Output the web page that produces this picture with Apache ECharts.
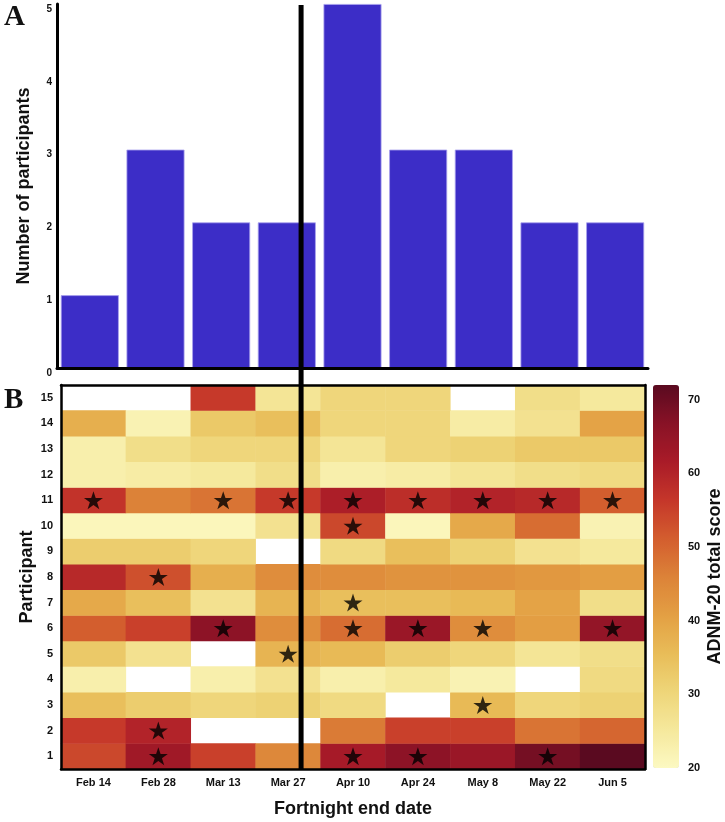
<!DOCTYPE html>
<html>
<head>
<meta charset="utf-8">
<script src="https://cdn.jsdelivr.net/npm/echarts@6/dist/echarts.min.js"></script>
<style>html,body{margin:0;padding:0;background:#fff;}#chart{width:725px;height:822px;}</style>
</head>
<body>
<div id="chart"></div>
<script>
// ---- data ----
const dates = ['Feb 14','Feb 28','Mar 13','Mar 27','Apr 10','Apr 24','May 8','May 22','Jun 5'];
const participantCounts = [1, 3, 2, 2, 5, 3, 3, 2, 2];
const participants = ['1','2','3','4','5','6','7','8','9','10','11','12','13','14','15'];
// ADNM-20 total score per participant (null = missing)
const p1  = [54, 63, 55, 45, 62, 66, 64, 69, 72];
const p2  = [56, 60, null, null, 47, 55, 55, 48, 50];
const p3  = [35, 32, 30, 31, 29, null, 36, 30, 31];
const p4  = [23, null, 23, 27, 23, 25, 22, null, 29];
const p5  = [33, 27, null, 37, 36, 32, 30, 26, 28];
const p6  = [51, 55, 66, 44, 49, 64, 44, 41, 65];
const p7  = [39, 35, 27, 37, 35, 35, 36, 40, 28];
const p8  = [59, 53, 38, 44, 44, 43, 43, 42, 41];
const p9  = [32, 32, 30, null, 29, 35, 31, 27, 25];
const p10 = [21, 21, 21, 27, 54, 21, 39, 49, 22];
const p11 = [57, 46, 48, 56, 61, 58, 60, 59, 51];
const p12 = [23, 24, 25, 28, 23, 24, 26, 28, 29];
const p13 = [23, 28, 30, 30, 26, 30, 31, 33, 33];
const p14 = [38, 22, 33, 35, 30, 30, 24, 27, 40];
const p15 = [null, null, 56, 26, 30, 30, null, 28, 25];
const scores = [p1,p2,p3,p4,p5,p6,p7,p8,p9,p10,p11,p12,p13,p14,p15];
// [date index, participant number] of starred cells
const stars = [[0,11],[2,11],[3,11],[4,11],[5,11],[6,11],[7,11],[8,11],[4,10],[1,8],[4,7],[2,6],[4,6],[5,6],[6,6],[8,6],[3,5],[6,3],[1,2],[1,1],[4,1],[5,1],[7,1]];
const colorTicks = [20, 30, 40, 50, 60, 70];
const lockdownPos = 3.7; // position on the fortnight axis (Mar 23)

// ---- build ----
const heatData = [];
scores.forEach((row, pi) => row.forEach((v, di) => {
  heatData.push([di, pi, v == null ? '-' : v]);
}));
const starData = stars.map(s => [s[0], s[1] - 1]);
const FONT = "'Liberation Sans', Arial, sans-serif";
const starPath = 'path://M100,0 L122.5,69.1 L195.1,69.1 L136.3,111.8 L158.8,180.9 L100,138.2 L41.2,180.9 L63.7,111.8 L4.9,69.1 L77.5,69.1 Z';
const lbl = {fontFamily: FONT, fontWeight: 'bold', fontSize: 11, color: '#111'};
const nameStyle = {fontFamily: FONT, fontWeight: 'bold', fontSize: 18, color: '#111'};

const chart = echarts.init(document.getElementById('chart'));
chart.setOption({
  animation: false,
  backgroundColor: '#fff',
  title: [
    {text: 'A', left: 4, top: 3, padding: 0, textStyle: {fontFamily: "'Liberation Serif', 'DejaVu Serif', serif", fontWeight: 'bold', fontSize: 29, color: '#111'}},
    {text: 'B', left: 4, top: 386, padding: 0, textStyle: {fontFamily: "'Liberation Serif', 'DejaVu Serif', serif", fontWeight: 'bold', fontSize: 29, color: '#111'}}
  ],
  grid: [
    {left: 57, top: 4, width: 591, height: 364},
    {left: 61, top: 385, width: 584, height: 384},
    {left: 653, top: 385, width: 26, height: 383},
    {left: 61, top: 5, width: 584, height: 764}
  ],
  xAxis: [
    {gridIndex: 0, type: 'category', data: dates, z: 10,
     axisLine: {lineStyle: {color: '#000', width: 3}}, axisTick: {show: false}, axisLabel: {show: false}},
    {gridIndex: 1, type: 'category', data: dates, z: 10, position: 'bottom',
     axisLine: {lineStyle: {color: '#000', width: 2.5}}, axisTick: {show: false},
     axisLabel: Object.assign({margin: 8}, lbl),
     name: 'Fortnight end date', nameLocation: 'middle', nameGap: 31, nameTextStyle: nameStyle},
    {gridIndex: 1, type: 'category', data: dates, z: 10, position: 'top',
     axisLine: {lineStyle: {color: '#000', width: 2.5}}, axisTick: {show: false}, axisLabel: {show: false}},
    {gridIndex: 2, type: 'value', show: false},
    {gridIndex: 3, type: 'value', min: 0, max: 9, show: false}
  ],
  yAxis: [
    {gridIndex: 0, type: 'value', min: 0, max: 5, interval: 1, z: 10,
     axisLine: {show: true, lineStyle: {color: '#000', width: 3}}, axisTick: {show: false}, splitLine: {show: false},
     axisLabel: Object.assign({margin: 5, verticalAlign: 'top', lineHeight: 10}, lbl, {fontSize: 10}),
     name: 'Number of participants', nameLocation: 'middle', nameGap: 24, nameMoveOverlap: false, nameTextStyle: nameStyle},
    {gridIndex: 1, type: 'category', data: participants, z: 10, position: 'left',
     axisLine: {lineStyle: {color: '#000', width: 2.5}}, axisTick: {show: false},
     axisLabel: Object.assign({margin: 8}, lbl),
     name: 'Participant', nameLocation: 'middle', nameGap: 25, nameMoveOverlap: false, nameTextStyle: nameStyle},
    {gridIndex: 1, type: 'category', data: participants, z: 10, position: 'right',
     axisLine: {lineStyle: {color: '#000', width: 2.5}}, axisTick: {show: false}, axisLabel: {show: false}},
    {gridIndex: 2, type: 'value', min: 20, max: 72, interval: 10, position: 'right',
     axisLine: {show: false}, axisTick: {show: false}, splitLine: {show: false},
     axisLabel: Object.assign({margin: 11, customValues: colorTicks}, lbl),
     name: 'ADNM-20 total score', nameLocation: 'middle', nameRotate: 90, nameGap: 29, nameTextStyle: nameStyle},
    {gridIndex: 3, type: 'value', min: 0, max: 1, show: false}
  ],
  visualMap: {
    type: 'continuous', min: 20, max: 72, seriesIndex: 1, calculable: false,
    left: 653, top: 385, itemWidth: 26, itemHeight: 383, padding: 0, text: null, showLabel: false,
    inRange: {color: ['#fcf9c2','#f5e89c','#eed578','#e8bc58','#e39f43','#dc8238','#d35d2e','#c5362a','#a91b28','#881226','#5a0a20']}
  },
  series: [
    {type: 'bar', xAxisIndex: 0, yAxisIndex: 0, data: participantCounts, barWidth: 58,
     itemStyle: {color: '#3c2dc7', borderColor: '#a9a2ee', borderWidth: 0.8}},
    {type: 'heatmap', xAxisIndex: 1, yAxisIndex: 1, data: heatData, itemStyle: {borderWidth: 0}},
    {type: 'scatter', xAxisIndex: 1, yAxisIndex: 1, data: starData, symbol: starPath, symbolSize: [19, 18],
     itemStyle: {color: '#000'}, z: 5},
    {type: 'line', xAxisIndex: 4, yAxisIndex: 4, data: [[lockdownPos, 0], [lockdownPos, 1]], symbol: 'none',
     lineStyle: {color: '#000', width: 5}, z: 20}
  ]
});
</script>
</body>
</html>
